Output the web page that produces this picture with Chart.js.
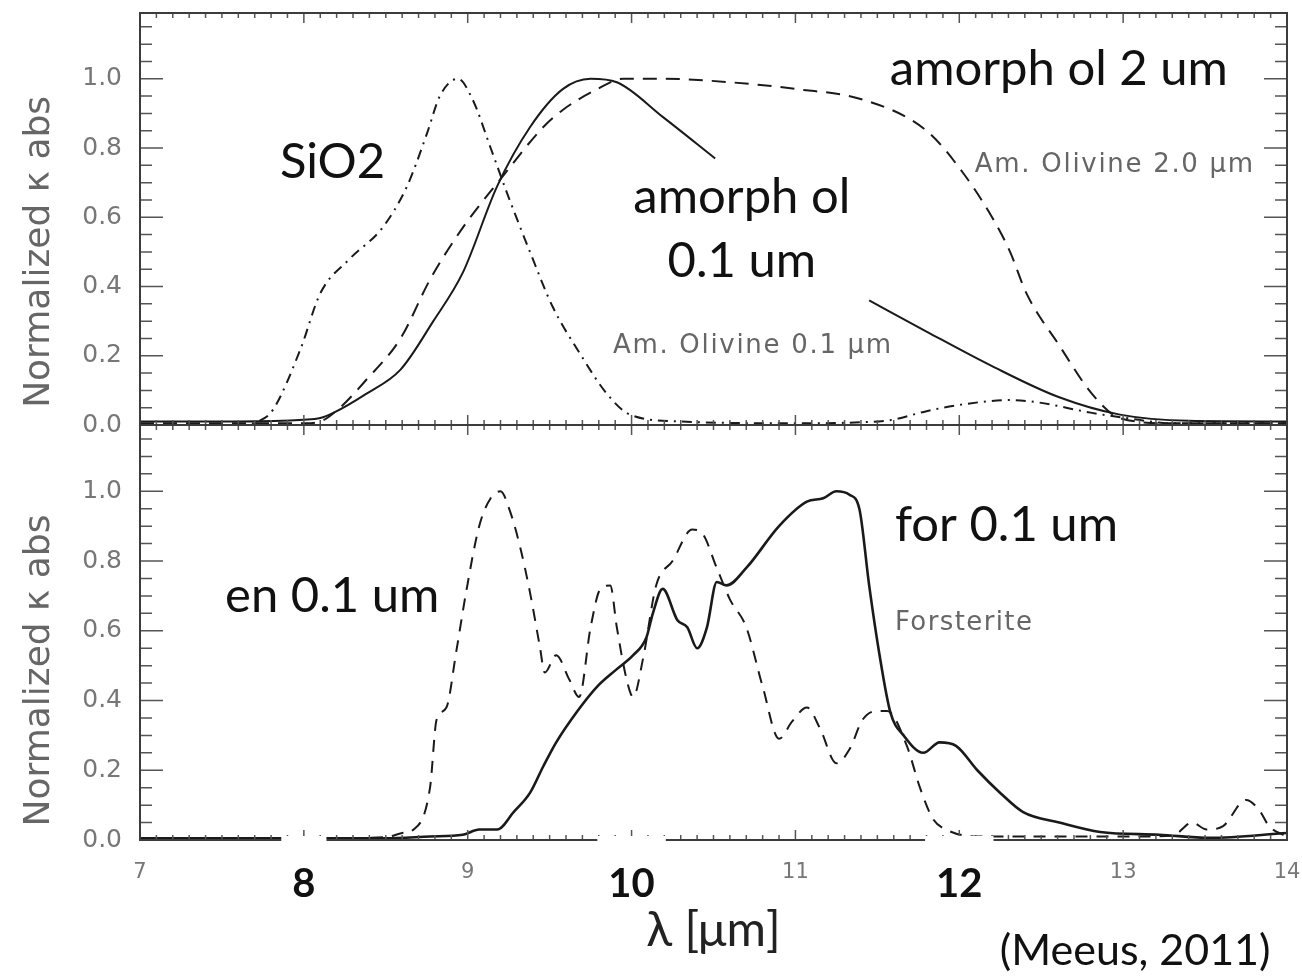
<!DOCTYPE html>
<html>
<head>
<meta charset="utf-8">
<title>Normalized absorption: amorphous olivine, SiO2, enstatite, forsterite</title>
<script src="https://cdn.jsdelivr.net/npm/chart.js@4.4.1/dist/chart.umd.min.js"></script>
<style>
  html, body { margin: 0; padding: 0; background: #fff; }
  #wrap { position: relative; width: 1302px; height: 976px; overflow: hidden; }
  canvas { position: absolute; left: 0; }
  #top { top: 0; }
  #bottom { top: 425px; }
</style>
</head>
<body>
<div id="wrap">
  <canvas id="top" width="1302" height="445"></canvas>
  <canvas id="bottom" width="1302" height="551"></canvas>
</div>
<script>
// axis ticks
const xTicks = [7, 8, 9, 10, 11, 12, 13, 14];
const bigXTicks = [8, 10, 12]; // pasted over in large type on the slide
const yTicks = [0, 0.2, 0.4, 0.6, 0.8, 1.0];

// top panel: amorphous olivine 0.1 um (solid), 2.0 um (dashed), SiO2 (dash-dot)
const amOl01X = [7.0, 7.6, 8.0, 8.1, 8.18, 8.38, 8.59, 8.79, 8.97, 9.18, 9.38, 9.58, 9.75, 9.91, 10.19, 10.51, 11.0, 11.45, 11.80, 12.20, 12.61, 12.98, 13.4, 14.0];
const amOl01Y = [0.01, 0.01, 0.015, 0.02, 0.035, 0.09, 0.16, 0.30, 0.44, 0.69, 0.86, 0.97, 1.0, 0.99, 0.89, 0.77, null, 0.36, 0.27, 0.17, 0.08, 0.03, 0.012, 0.01];

const amOl20X = [7.0, 7.8, 8.0, 8.10, 8.22, 8.38, 8.59, 8.77, 8.97, 9.20, 9.46, 9.58, 9.79, 9.95, 10.19, 10.60, 11.01, 11.41, 11.80, 12.02, 12.20, 12.31, 12.41, 12.61, 12.81, 12.98, 13.3, 14.0];
const amOl20Y = [0.005, 0.005, 0.005, 0.01, 0.05, 0.13, 0.25, 0.42, 0.57, 0.71, 0.86, 0.91, 0.97, 1.0, 1.0, 0.99, 0.97, 0.94, 0.85, 0.73, 0.60, 0.50, 0.38, 0.23, 0.09, 0.02, 0.005, 0.005];

const sio2X = [7.0, 7.6, 7.72, 7.81, 7.98, 8.10, 8.28, 8.48, 8.63, 8.75, 8.83, 8.94, 9.03, 9.14, 9.24, 9.38, 9.52, 9.68, 9.85, 9.99, 10.3, 11.0, 11.4, 11.59, 11.80, 12.0, 12.31, 12.47, 12.81, 13.02, 13.3, 14.0];
const sio2Y = [0.0, 0.0, 0.01, 0.043, 0.22, 0.38, 0.48, 0.57, 0.69, 0.84, 0.95, 1.0, 0.94, 0.80, 0.67, 0.50, 0.34, 0.21, 0.09, 0.03, 0.01, 0.005, 0.008, 0.015, 0.04, 0.058, 0.072, 0.066, 0.035, 0.02, 0.005, 0.005];

// bottom panel: enstatite 0.1 um (dashed), forsterite 0.1 um (solid)
const enX = [7.0, 8.0, 8.5, 8.60, 8.67, 8.77, 8.81, 8.87, 8.93, 8.99, 9.07, 9.14, 9.20, 9.26, 9.32, 9.38, 9.44, 9.47, 9.54, 9.62, 9.68, 9.75, 9.81, 9.87, 9.91, 9.97, 10.01, 10.07, 10.15, 10.25, 10.37, 10.43, 10.52, 10.60, 10.70, 10.80, 10.90, 10.98, 11.07, 11.15, 11.25, 11.33, 11.41, 11.50, 11.56, 11.68, 11.76, 11.84, 11.92, 12.1, 13.0, 13.3, 13.42, 13.51, 13.61, 13.75, 13.83, 13.89, 14.0];
const enY = [0.005, 0.005, 0.008, 0.02, 0.03, 0.15, 0.345, 0.38, 0.54, 0.71, 0.90, 0.98, 1.0, 0.94, 0.84, 0.71, 0.555, 0.48, 0.53, 0.46, 0.41, 0.61, 0.72, 0.73, 0.61, 0.46, 0.41, 0.52, 0.73, 0.80, 0.89, 0.88, 0.78, 0.69, 0.61, 0.44, 0.29, 0.34, 0.38, 0.32, 0.22, 0.26, 0.345, 0.37, 0.37, 0.27, 0.15, 0.06, 0.03, 0.01, 0.01, 0.012, 0.05, 0.03, 0.04, 0.115, 0.086, 0.04, 0.01];

const forX = [7.0, 8.5, 8.77, 8.97, 9.07, 9.18, 9.28, 9.38, 9.46, 9.54, 9.67, 9.79, 9.91, 10.01, 10.09, 10.13, 10.19, 10.28, 10.34, 10.40, 10.46, 10.52, 10.58, 10.70, 10.90, 11.07, 11.17, 11.25, 11.33, 11.39, 11.45, 11.51, 11.58, 11.66, 11.78, 11.88, 11.98, 12.11, 12.25, 12.39, 12.61, 12.86, 13.22, 13.53, 14.0];
const forY = [0.005, 0.005, 0.01, 0.015, 0.03, 0.03, 0.08, 0.135, 0.21, 0.28, 0.37, 0.44, 0.49, 0.53, 0.58, 0.65, 0.72, 0.63, 0.61, 0.55, 0.61, 0.74, 0.73, 0.78, 0.90, 0.97, 0.98, 1.0, 0.99, 0.95, 0.73, 0.54, 0.365, 0.30, 0.25, 0.28, 0.27, 0.20, 0.135, 0.08, 0.05, 0.023, 0.015, 0.006, 0.02];

const bigFont = '49px Lato';
const smallFont = '26px "DejaVu Sans"';
const titleFont = '36px "DejaVu Sans"';
const bigTickFont = 'bold 40px Lato';

// text on the slide, placed in data units of each panel
const topNotes = [
  { text: 'Normalized κ abs', x: 6.39, y: 0.5, font: titleFont, color: '#666', align: 'center', rotate: true },
  { text: 'SiO2', x: 7.854, y: 0.714, font: bigFont, color: '#111' },
  { text: 'amorph ol 2 um', x: 11.576, y: 0.983, font: bigFont, color: '#111' },
  { text: 'amorph ol', x: 10.673, y: 0.613, font: bigFont, color: '#111', align: 'center' },
  { text: '0.1 um', x: 10.673, y: 0.428, font: bigFont, color: '#111', align: 'center' },
  { text: 'Am. Olivine 2.0 μm', x: 12.095, y: 0.731, font: smallFont, color: '#666', spacing: '1.7px' },
  { text: 'Am. Olivine 0.1 μm', x: 9.886, y: 0.208, font: smallFont, color: '#666', spacing: '1.7px' }
];
const bottomNotes = [
  { text: 'Normalized κ abs', x: 6.39, y: 0.486, font: titleFont, color: '#666', align: 'center', rotate: true },
  { text: 'en 0.1 um', x: 7.519, y: 0.655, font: bigFont, color: '#111' },
  { text: 'for 0.1 um', x: 11.607, y: 0.856, font: bigFont, color: '#111' },
  { text: 'Forsterite', x: 11.607, y: 0.603, font: smallFont, color: '#666', spacing: '1.4px' },
  { text: '(Meeus, 2011)', x: 12.247, y: -0.359, font: '43px Lato', color: '#111' }
];

function series(label, xs, ys, dash, width) {
  return {
    label: label,
    data: xs.map((x, i) => ({ x: x, y: ys[i] })),
    borderColor: '#1a1a1a',
    borderWidth: width,
    borderDash: dash,
    pointRadius: 0,
    spanGaps: false,
    cubicInterpolationMode: 'monotone'
  };
}

function isBig(c) {
  return !!(c.tick && bigXTicks.includes(c.tick.value));
}

function decor(notes, covers) {
  return {
    id: 'decor',
    afterDatasetsDraw(chart) {
      const { ctx, chartArea: a, scales: { x, y } } = chart;
      ctx.save();
      // inward ticks on all four sides
      ctx.strokeStyle = '#555';
      ctx.lineWidth = 1.5;
      ctx.beginPath();
      for (let i = 70; i <= 140; i++) {
        const px = x.getPixelForValue(i / 10);
        const len = i % 10 === 0 ? 10 : 5;
        ctx.moveTo(px, a.top); ctx.lineTo(px, a.top + len);
        ctx.moveTo(px, a.bottom); ctx.lineTo(px, a.bottom - len);
      }
      for (let i = 0; i * 0.05 <= y.max + 1e-9; i++) {
        const py = y.getPixelForValue(i * 0.05);
        const len = i % 4 === 0 ? 23 : 12;
        ctx.moveTo(a.left, py); ctx.lineTo(a.left + len, py);
        ctx.moveTo(a.right, py); ctx.lineTo(a.right - len, py);
      }
      ctx.stroke();
      ctx.lineWidth = 2;
      ctx.strokeStyle = '#3c3c3c';
      ctx.strokeRect(a.left, a.top, a.right - a.left, a.bottom - a.top);

      // white patches behind the enlarged tick labels
      if (covers) {
        ctx.font = bigTickFont;
        ctx.fillStyle = '#fff';
        for (const v of bigXTicks) {
          const w = ctx.measureText(String(v)).width + 22;
          ctx.fillRect(x.getPixelForValue(v) - w / 2, a.bottom - 4, w, 64);
        }
      }

      for (const n of notes) {
        ctx.font = n.font;
        ctx.fillStyle = n.color;
        ctx.textAlign = n.align || 'left';
        ctx.letterSpacing = n.spacing || '0px';
        const px = x.getPixelForValue(n.x);
        const py = y.getPixelForValue(n.y);
        if (n.rotate) {
          ctx.save();
          ctx.translate(px, py);
          ctx.rotate(-Math.PI / 2);
          ctx.textBaseline = 'middle';
          ctx.fillText(n.text, 0, 0);
          ctx.restore();
        } else {
          ctx.textBaseline = 'alphabetic';
          ctx.fillText(n.text, px, py);
        }
      }
      ctx.restore();
    }
  };
}

function panelOptions(isBottom) {
  return {
    responsive: false,
    animation: false,
    layout: { padding: { top: isBottom ? 0 : 13, right: 15, bottom: isBottom ? 0 : 20, left: 0 } },
    plugins: { legend: { display: false }, tooltip: { enabled: false } },
    scales: {
      x: {
        type: 'linear',
        min: 7,
        max: 14,
        display: isBottom,
        grid: { display: false, drawTicks: false },
        border: { display: false },
        afterBuildTicks: s => { s.ticks = xTicks.map(v => ({ value: v })); },
        afterFit: s => {
          if (isBottom) s.height = 136;
          s.paddingLeft = 0;
          s.paddingRight = 0;
        },
        ticks: {
          z: 1,
          padding: 20,
          maxRotation: 0,
          autoSkip: false,
          font: c => isBig(c)
            ? { family: 'Lato', size: 40, weight: 'bold' }
            : { family: 'DejaVu Sans', size: 21 },
          color: c => isBig(c) ? '#111' : '#777'
        },
        title: {
          display: true,
          text: 'λ [μm]',
          color: '#222',
          font: { family: 'Lato', size: 48 },
          padding: { top: 0, bottom: 17 }
        }
      },
      y: {
        min: 0,
        max: 1.19,
        grid: { display: false, drawTicks: false },
        border: { display: false },
        afterBuildTicks: s => { s.ticks = yTicks.map(v => ({ value: v })); },
        afterFit: s => {
          s.width = 140;
          s.paddingTop = 0;
          s.paddingBottom = 0;
        },
        ticks: {
          padding: 18,
          color: '#777',
          font: { family: 'DejaVu Sans', size: 25 },
          callback: v => v.toFixed(1)
        }
      }
    }
  };
}

new Chart(document.getElementById('top'), {
  type: 'line',
  data: {
    datasets: [
      series('Am. Olivine 0.1 μm', amOl01X, amOl01Y, [], 2),
      series('Am. Olivine 2.0 μm', amOl20X, amOl20Y, [14, 9], 2),
      series('SiO2', sio2X, sio2Y, [10, 6, 2, 6], 2)
    ]
  },
  options: panelOptions(false),
  plugins: [decor(topNotes, false)]
});

new Chart(document.getElementById('bottom'), {
  type: 'line',
  data: {
    datasets: [
      series('Forsterite 0.1 μm', forX, forY, [], 2.6),
      series('Enstatite 0.1 μm', enX, enY, [12, 9], 2)
    ]
  },
  options: panelOptions(true),
  plugins: [decor(bottomNotes, true)]
});
</script>
</body>
</html>
